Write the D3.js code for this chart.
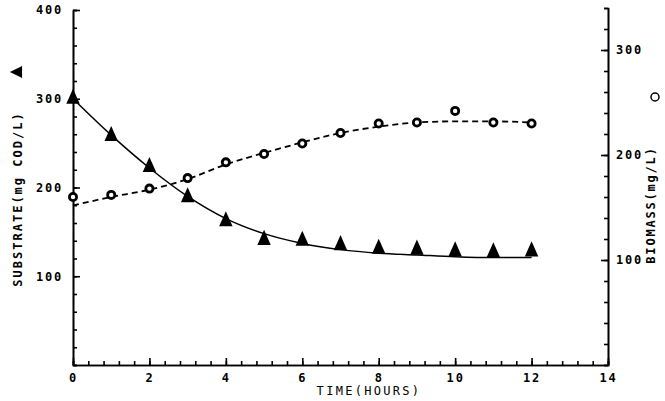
<!DOCTYPE html>
<html>
<head>
<meta charset="utf-8">
<script src="https://cdn.jsdelivr.net/npm/d3@7"></script>
<style>
  body { margin: 0; background: #fff; }
  svg text { font-family: "DejaVu Sans Mono", monospace; fill: #000; }
  .tick text { font-weight: bold; font-size: 12px; letter-spacing: 1.8px; }
  .domain, .tick line { stroke: #000; stroke-width: 1.6; }
</style>
</head>
<body>
<div id="chart-area"></div>
<script>
// time in hours
var hours = [0, 1, 2, 3, 4, 5, 6, 7, 8, 9, 10, 11, 12];
// measured substrate, mg COD/L (triangles, left axis)
var substrate = [300, 258, 223, 189, 162, 141, 140, 135, 131, 130, 128, 127, 128];
// measured biomass, mg/L (circles, right axis)
var biomass = [160, 162, 168, 178, 193, 201, 211, 221, 230, 231, 242, 231, 230];
// model curves
var substrateFit = [300, 259, 222, 190, 165, 148, 137, 130, 126, 124, 122, 121, 121];
var biomassFit = [152, 160, 167, 177, 191, 202, 212, 221, 227, 231, 232, 232, 231];

var xTicks = [0, 2, 4, 6, 8, 10, 12, 14];
var leftTicks = [100, 200, 300, 400];
var rightTicks = [100, 200, 300];

var width = 665, height = 401;

var svg = d3.select("#chart-area").append("svg")
    .attr("width", width)
    .attr("height", height);

var x = d3.scaleLinear().domain([0, 14]).range([73, 608]);
var yL = d3.scaleLinear().domain([0, 400]).range([365, 10]);
var yR = d3.scaleLinear().domain([0, 340]).range([365, 8]);

// minor ticks first
svg.append("g")
    .attr("transform", "translate(0,365)")
    .call(d3.axisBottom(x).tickValues(d3.range(0, 14.01, 0.4)).tickSize(-4).tickFormat(""));
svg.append("g")
    .attr("transform", "translate(73,0)")
    .call(d3.axisLeft(yL).tickValues(d3.range(0, 401, 20)).tickSize(-4).tickFormat(""));
svg.append("g")
    .attr("transform", "translate(608,0)")
    .call(d3.axisRight(yR).tickValues(d3.range(0, 341, 20)).tickSize(-4).tickFormat(""));

// major ticks with labels
svg.append("g")
    .attr("transform", "translate(0,365)")
    .call(d3.axisBottom(x).tickValues(xTicks).tickSizeInner(-7).tickSizeOuter(0).tickPadding(8).tickFormat(d3.format("d")));
svg.append("g")
    .attr("transform", "translate(73,0)")
    .call(d3.axisLeft(yL).tickValues(leftTicks).tickSizeInner(-7).tickSizeOuter(0).tickPadding(10).tickFormat(d3.format("d")));
svg.append("g")
    .attr("transform", "translate(608,0)")
    .call(d3.axisRight(yR).tickValues(rightTicks).tickSizeInner(-7).tickSizeOuter(0).tickPadding(8).tickFormat(d3.format("d")));

svg.selectAll(".tick text").attr("fill", "#000");

// fitted curves
var lineS = d3.line()
    .x(function(d, i) { return x(hours[i]); })
    .y(function(d) { return yL(d); })
    .curve(d3.curveMonotoneX);
var lineB = d3.line()
    .x(function(d, i) { return x(hours[i]); })
    .y(function(d) { return yR(d); })
    .curve(d3.curveMonotoneX);

svg.append("path")
    .attr("d", lineS(substrateFit))
    .attr("fill", "none")
    .attr("stroke", "#000")
    .attr("stroke-width", 1.5);

svg.append("path")
    .attr("d", lineB(biomassFit))
    .attr("fill", "none")
    .attr("stroke", "#000")
    .attr("stroke-width", 1.8)
    .attr("stroke-dasharray", "6,4");

// triangles
var tri = d3.symbol().type(d3.symbolTriangle).size(78);
svg.selectAll(".tri")
    .data(substrate)
    .enter()
    .append("path")
    .attr("class", "tri")
    .attr("d", tri)
    .attr("transform", function(d, i) {
        return "translate(" + x(hours[i]) + "," + yL(d) + ") scale(1,1.3)";
    })
    .attr("fill", "#000");

// circles
svg.selectAll(".circ")
    .data(biomass)
    .enter()
    .append("circle")
    .attr("class", "circ")
    .attr("cx", function(d, i) { return x(hours[i]); })
    .attr("cy", function(d) { return yR(d); })
    .attr("r", 3.6)
    .attr("fill", "#fff")
    .attr("stroke", "#000")
    .attr("stroke-width", 2.8);

// axis titles
svg.append("text")
    .attr("x", 369)
    .attr("y", 395)
    .attr("text-anchor", "middle")
    .attr("font-size", "12px")
    .attr("letter-spacing", "2.3px")
    .text("TIME(HOURS)");

svg.append("text")
    .attr("transform", "translate(22,199) rotate(-90)")
    .attr("text-anchor", "middle")
    .attr("font-size", "12px")
    .attr("font-weight", "bold")
    .attr("letter-spacing", "2px")
    .text("SUBSTRATE(mg COD/L)");

svg.append("path")
    .attr("d", d3.symbol().type(d3.symbolTriangle).size(60)())
    .attr("transform", "translate(18,72) rotate(-90) scale(1,1.2)")
    .attr("fill", "#000");

svg.append("text")
    .attr("transform", "translate(655,205) rotate(-90)")
    .attr("text-anchor", "middle")
    .attr("font-size", "12px")
    .attr("font-weight", "bold")
    .attr("letter-spacing", "1.8px")
    .text("BIOMASS(mg/L)");

svg.append("circle")
    .attr("cx", 655)
    .attr("cy", 97)
    .attr("r", 4)
    .attr("fill", "none")
    .attr("stroke", "#000")
    .attr("stroke-width", 1.5);
</script>
</body>
</html>
